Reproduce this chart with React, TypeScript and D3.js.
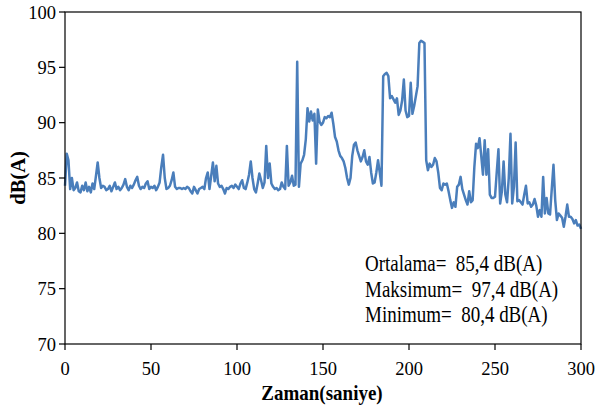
import React from "react";
import * as d3 from "d3";

const W = 597;
const H = 414;

const yTicks = [70, 75, 80, 85, 90, 95, 100];
const xTicks = [0, 50, 100, 150, 200, 250, 300];

const xTitle = "Zaman(saniye)";
const yTitle = "dB(A)";

const statLabels = ["Ortalama=", "Maksimum=", "Minimum="];
const statValues = ["85,4 dB(A)", "97,4 dB(A)", "80,4 dB(A)"];

// sound level, one reading per second from t = 0 s
const levels = [
  84.3, 87.2, 86.6, 84.0, 85.0, 83.9, 84.1, 84.6, 83.8, 83.7,
  84.3, 83.9, 84.6, 83.8, 84.2, 83.7, 84.5, 84.0, 85.2, 86.4,
  85.0, 84.1, 84.3, 84.2, 83.9, 84.0, 84.3, 83.8, 84.2, 84.6,
  84.0, 84.2, 83.9, 84.1, 84.4, 84.9, 84.2, 83.9, 84.3, 84.1,
  84.4, 84.8, 85.1, 84.3, 84.0, 84.2, 84.1, 84.5, 84.7, 84.0,
  84.2, 84.1, 84.3, 83.9, 84.2, 84.6, 86.0, 87.1, 85.0, 84.0,
  84.1, 84.3, 84.8, 85.5, 84.2, 84.0, 84.1, 84.1, 84.0, 84.1,
  84.0, 84.2, 84.1, 83.8, 83.6, 84.2, 83.9, 83.6, 84.0, 84.1,
  84.2, 84.0, 85.0, 85.5, 84.0, 85.2, 86.4, 84.7, 86.1, 84.5,
  84.2, 84.3, 84.0, 83.6, 84.1, 84.0, 84.2, 84.3, 84.1, 84.4,
  84.2, 84.0, 84.5, 84.8, 84.1, 84.0, 84.6, 85.3, 86.5, 85.0,
  84.0, 83.7, 84.5, 85.4, 84.8, 84.1, 84.6, 87.9, 85.0, 86.3,
  84.5, 84.2, 84.0, 84.1, 83.9, 84.0, 84.6, 84.2, 84.0, 87.9,
  84.3, 84.6, 85.2, 84.3, 84.4, 95.5, 84.2, 86.3, 86.6, 87.1,
  88.5, 91.3, 90.1, 91.0, 90.2, 90.8, 86.3, 91.2, 90.1, 89.8,
  90.0, 90.5, 90.4, 90.6, 90.5, 90.9, 89.9, 88.7, 88.3, 87.5,
  87.0, 86.8, 86.5, 85.9, 85.0, 84.4, 85.0, 87.0, 88.0, 88.2,
  87.5, 87.0, 86.5, 86.9, 87.5, 86.5, 86.2, 86.9, 85.5, 84.5,
  84.6, 85.5, 86.6, 85.5, 84.3, 94.2, 94.4, 94.5, 94.2, 92.2,
  92.4, 92.1, 91.8, 92.2, 90.7, 91.1, 92.0, 93.9, 91.1, 90.5,
  90.6, 93.6, 90.8, 91.5, 92.4, 93.3, 97.2, 97.4, 97.3, 97.2,
  86.6, 85.7, 86.3, 86.0, 86.2, 86.8, 86.5, 85.5, 84.1, 83.9,
  84.5, 84.4, 84.5, 83.8, 83.0, 82.3, 82.8, 82.4, 84.2, 84.4,
  85.1, 84.0, 83.5, 83.0, 82.6, 83.8, 82.8, 83.0, 86.0, 88.1,
  87.7, 88.6, 87.0, 85.3, 88.4, 85.3, 87.6, 83.5, 83.2, 83.2,
  83.3, 85.5, 87.6, 82.7, 83.8, 86.5, 83.5, 82.8, 85.0, 89.0,
  82.7, 84.2, 88.2, 82.9, 83.0, 82.8, 82.6, 83.5, 84.3, 82.7,
  82.8, 82.4, 82.6, 83.1, 82.5, 81.5, 82.1, 81.5, 85.1, 81.8,
  83.2, 81.8, 81.7, 84.0, 86.2, 83.0, 81.2, 81.8, 81.6, 81.4,
  80.6, 81.5, 82.6, 81.5, 81.5, 81.3, 80.9, 81.2, 80.7, 80.8,
  80.4,
];

const M = { left: 65, right: 581, top: 12, bottom: 344 };
const FONT = "'Liberation Serif', 'Times New Roman', serif";

export default function App() {
  const x = d3.scaleLinear().domain([0, 300]).range([M.left, M.right]);
  const y = d3.scaleLinear().domain([70, 100]).range([M.bottom, M.top]);
  const line = d3
    .line<number>()
    .x((_, i) => x(i))
    .y((d) => y(d));

  return (
    <svg
      width={W}
      height={H}
      style={{ position: "absolute", left: 0, top: 0, background: "#fff" }}
      fontFamily={FONT}
    >
      <rect x={0} y={0} width={W} height={H} fill="#fff" />
      <path d={line(levels) || ""} fill="none" stroke="#4a7ebb" strokeWidth={2.5} strokeLinejoin="round" />
      <rect
        x={M.left}
        y={M.top}
        width={M.right - M.left}
        height={M.bottom - M.top}
        fill="none"
        stroke="#000"
        strokeWidth={1.2}
      />
      {yTicks.map((t) => (
        <g key={"y" + t}>
          <line x1={M.left - 6} x2={M.left} y1={y(t)} y2={y(t)} stroke="#000" strokeWidth={1.2} />
          <text x={M.left - 9} y={y(t) + 6.5} textAnchor="end" fontSize={18.5} fill="#000">
            {t}
          </text>
        </g>
      ))}
      {xTicks.map((t) => (
        <g key={"x" + t}>
          <line x1={x(t)} x2={x(t)} y1={M.bottom} y2={M.bottom + 6} stroke="#000" strokeWidth={1.2} />
          <text x={x(t)} y={375} textAnchor="middle" fontSize={18.5} fill="#000">
            {t}
          </text>
        </g>
      ))}
      <text
        transform="translate(322, 400) scale(1, 1.12)"
        textAnchor="middle"
        fontSize={19}
        fontWeight="bold"
        fill="#000"
      >
        {xTitle}
      </text>
      <text
        transform="translate(25, 178) rotate(-90)"
        textAnchor="middle"
        fontSize={20.5}
        fontWeight="bold"
        fill="#000"
      >
        {yTitle}
      </text>
      {statLabels.map((s, i) => (
        <text
          key={s}
          transform={`translate(365, ${271 + i * 25.5}) scale(1, 1.18)`}
          fontSize={19}
          fill="#000"
        >
          {s + "\u00a0\u00a0" + statValues[i]}
        </text>
      ))}
    </svg>
  );
}
